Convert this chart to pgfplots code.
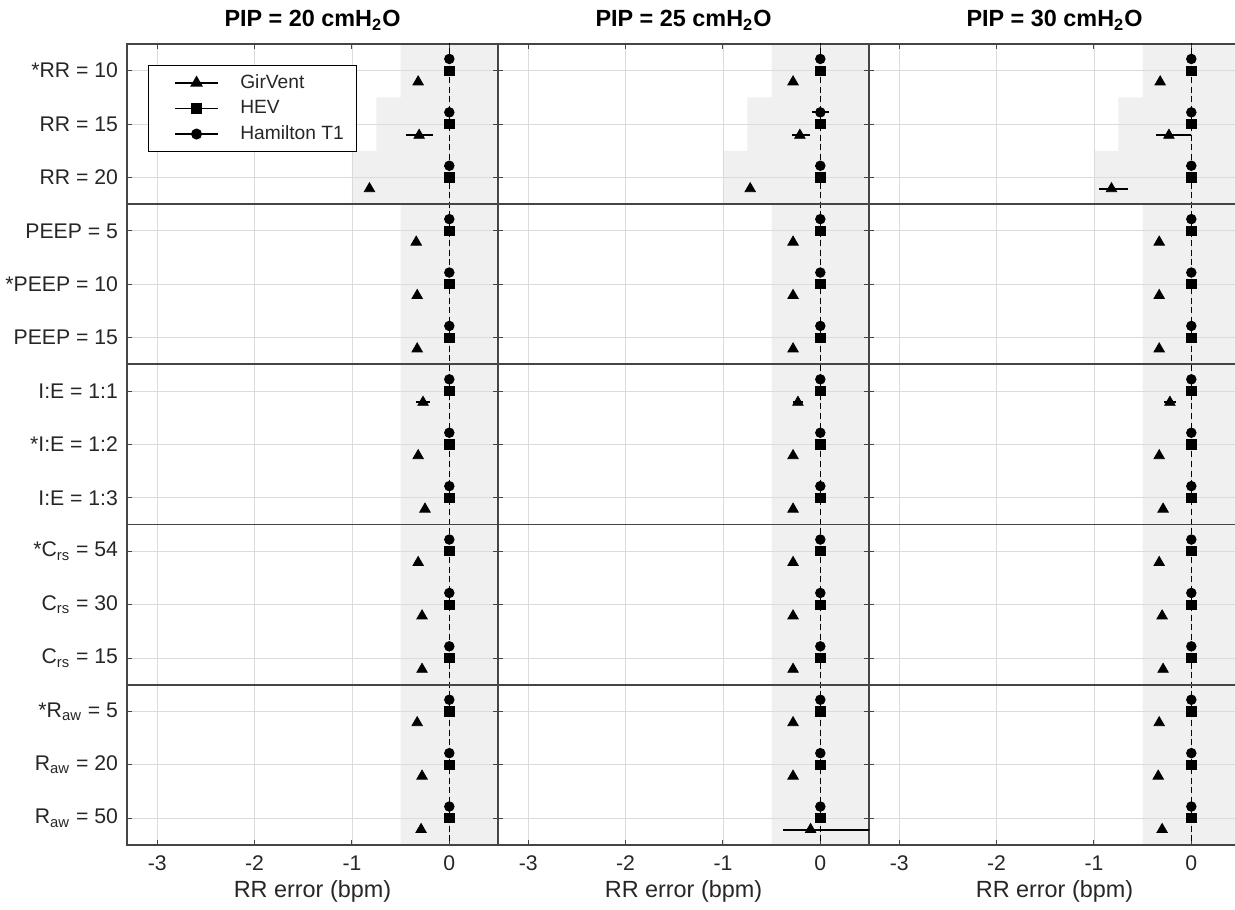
\documentclass[border=0pt]{standalone}
\usepackage{pgfplots}
\pgfplotsset{compat=1.18}
\usepackage{pgfplotstable}
\usepackage{fontspec}
\setmainfont{Liberation Sans}

% k  tri  tm  tp  sq  sqe  ci  cie
\pgfplotstableread{
k tri tm tp sq sqe ci cie
0 -0.32 0.02 0.02 0 0 0 0
1 -0.31 0.13 0.14 0 0 0 0
2 -0.82 0.03 0.03 0 0 0 0.05
3 -0.34 0.03 0.03 0 0 0 0
4 -0.33 0.02 0.02 0 0 0 0
5 -0.33 0.01 0.01 0 0 0 0
6 -0.27 0.07 0.07 0 0 0 0
7 -0.32 0.03 0.03 0 0 0 0
8 -0.25 0.00 0.00 0 0 0 0
9 -0.32 0.02 0.02 0 0 0 0
10 -0.28 0.01 0.01 0 0 0 0
11 -0.28 0.00 0.00 0 0 0 0
12 -0.33 0.02 0.02 0 0 0 0
13 -0.28 0.01 0.01 0 0 0 0
14 -0.29 0.00 0.00 0 0 0 0
}\pipA
\pgfplotstableread{
k tri tm tp sq sqe ci cie
0 -0.28 0.00 0.00 0 0 0 0
1 -0.21 0.08 0.10 0 0 0 0.09
2 -0.72 0.00 0.00 0 0.05 0 0.05
3 -0.28 0.00 0.00 0 0 0 0
4 -0.28 0.00 0.00 0 0 0 0
5 -0.28 0.03 0.03 0 0 0 0
6 -0.23 0.05 0.05 0 0 0 0
7 -0.28 0.00 0.00 0 0 0 0
8 -0.28 0.02 0.02 0 0 0 0
9 -0.28 0.00 0.00 0 0 0 0
10 -0.28 0.00 0.00 0 0 0 0
11 -0.28 0.02 0.02 0 0 0 0
12 -0.28 0.00 0.00 0 0 0 0
13 -0.28 0.00 0.00 0 0 0 0
14 -0.10 0.28 0.80 0 0 0 0
}\pipB
\pgfplotstableread{
k tri tm tp sq sqe ci cie
0 -0.32 0.02 0.02 0 0 0 0
1 -0.23 0.13 0.23 0 0 0 0
2 -0.82 0.13 0.17 0 0 0 0.05
3 -0.33 0.02 0.02 0 0 0 0
4 -0.33 0.02 0.02 0 0 0 0
5 -0.33 0.00 0.00 0 0 0 0
6 -0.22 0.06 0.06 0 0 0 0
7 -0.33 0.02 0.02 0 0 0 0
8 -0.29 0.00 0.00 0 0 0 0
9 -0.33 0.02 0.02 0 0 0 0
10 -0.30 0.00 0.00 0 0 0 0
11 -0.29 0.00 0.00 0 0 0 0
12 -0.33 0.02 0.02 0 0 0 0
13 -0.34 0.00 0.00 0 0 0 0
14 -0.30 0.03 0.03 0 0 0 0
}\pipC
% tolerance band (x, y)
\pgfplotstableread{
x y
0.5 -0.5
-0.5 -0.5
-0.5 0.5
-0.75 0.5
-0.75 1.5
-1.0 1.5
-1.0 2.5
-0.5 2.5
-0.5 14.5
0.5 14.5
}\band

\definecolor{axcol}{gray}{0.27}
\definecolor{txtcol}{gray}{0.15}

\pgfplotsset{
  rrpanel/.style={
    set layers,
    scale only axis, width=185.5pt, height=400.5pt,
    anchor=south west,
    xmin=-3.31, xmax=0.5,
    ymin=-0.5, ymax=14.5, y dir=reverse,
    xtick={-3,-2,-1,0}, xticklabels={-3,-2,-1,0},
    ytick={0,...,14},
    grid=major,
    grid style={black!14, line width=0.4pt},
    tick align=inside,
    major tick length=2.5pt,
    tick style={axcol, line width=0.5pt},
    axis line style={axcol, line width=0.9pt},
    ticklabel style={font=\fontsize{10.6}{12}\selectfont, text=txtcol},
    xticklabel style={yshift=-2pt},
    label style={font=\fontsize{11.7}{13}\selectfont, text=txtcol},
    xlabel={RR error (bpm)},
    xlabel style={at={(axis description cs:0.5,0)}, anchor=base, yshift=-26.5pt},
    title style={font=\bfseries\fontsize{11.7}{13}\selectfont, text=black,
                 at={(axis description cs:0.5,1)}, anchor=base, yshift=2.5pt},
    error bars/error bar style={line width=1pt, black},
    error bars/error mark=none,
  },
  tri/.style={black, only marks, mark=triangle*, mark size=3pt,
     error bars/x dir=both, error bars/x explicit},
  sqr/.style={black, only marks, mark=square*, mark size=2.3pt,
     error bars/x dir=both, error bars/x explicit},
  cir/.style={black, only marks, mark=*, mark size=2.4pt,
     error bars/x dir=both, error bars/x explicit},
}

\newcommand{\panelbody}[1]{%
  \addplot[fill=black!6, draw=none, on layer=axis background, forget plot] table[x=x,y=y] {\band} -- cycle;
  \addplot[black, line width=0.5pt, dash pattern=on 3pt off 1.8pt, forget plot] coordinates {(0,-0.6) (0,14.6)};
  \addplot[axcol, line width=0.9pt, forget plot] coordinates {(-4,2.5) (1,2.5)};
  \addplot[axcol, line width=0.9pt, forget plot] coordinates {(-4,5.5) (1,5.5)};
  \addplot[axcol, line width=0.9pt, forget plot] coordinates {(-4,8.5) (1,8.5)};
  \addplot[axcol, line width=0.9pt, forget plot] coordinates {(-4,11.5) (1,11.5)};
  \addplot[tri, forget plot] table[x=tri, y expr=\thisrow{k}+0.21, x error minus=tm, x error plus=tp] {#1};
  \addplot[sqr, forget plot] table[x=sq, y=k, x error minus=sqe, x error plus=sqe] {#1};
  \addplot[cir, forget plot] table[x=ci, y expr=\thisrow{k}-0.22, x error minus=cie, x error plus=cie] {#1};
}

\begin{document}
\begin{tikzpicture}
\begin{axis}[rrpanel, at={(63.5pt,32pt)},
  title={PIP = 20 cmH\textsubscript{2}O},
  yticklabels={*RR = 10, RR = 15, RR = 20, PEEP = 5, *PEEP = 10, PEEP = 15,
    I:E = 1:1, *I:E = 1:2, I:E = 1:3,
    *C\textsubscript{rs} = 54, C\textsubscript{rs} = 30, C\textsubscript{rs} = 15,
    *R\textsubscript{aw} = 5, R\textsubscript{aw} = 20, R\textsubscript{aw} = 50},
  yticklabel style={xshift=-1pt},
  legend image code/.code={\path[draw=none] (-9pt,0pt) -- (0pt,0pt);\draw[mark repeat=2,mark phase=2,#1] plot coordinates {(0cm,0cm) (0.37cm,0cm) (0.74cm,0cm)};},
  legend style={at={(axis description cs:0.0566,0.9738)}, anchor=north west,
    draw=black, line width=0.5pt, fill=white, inner ysep=2.5pt, inner xsep=4.5pt,
    font=\fontsize{9.6}{11}\selectfont, text=txtcol,
    /tikz/every odd column/.append style={column sep=9pt},
    row sep=0.5pt},
  legend cell align=left,
]
\panelbody{\pipA}
\addlegendimage{black, line width=0.7pt, mark=triangle*, mark size=3pt}
\addlegendentry{GirVent}
\addlegendimage{black, line width=0.7pt, mark=square*, mark size=2.3pt}
\addlegendentry{HEV}
\addlegendimage{black, line width=0.7pt, mark=*, mark size=2.4pt}
\addlegendentry{Hamilton T1}
\end{axis}
\begin{axis}[rrpanel, at={(249pt,32pt)},
  title={PIP = 25 cmH\textsubscript{2}O},
  yticklabels={}]
\panelbody{\pipB}
\end{axis}
\begin{axis}[rrpanel, at={(434.5pt,32pt)},
  title={PIP = 30 cmH\textsubscript{2}O},
  yticklabels={}]
\panelbody{\pipC}
\end{axis}
\pgfresetboundingbox
\path[use as bounding box] (0,0) rectangle (617.5pt,454.5pt);
\end{tikzpicture}
\end{document}
